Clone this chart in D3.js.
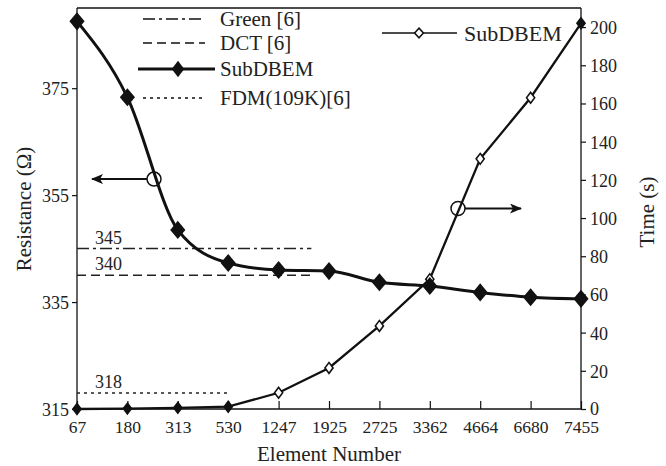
<!DOCTYPE html>
<html>
<head>
<meta charset="utf-8">
<script src="https://cdn.jsdelivr.net/npm/d3@7"></script>
<style>
  body { margin: 0; background: #fff; }
  svg { font-family: "Liberation Serif", "DejaVu Serif", serif; }
</style>
</head>
<body>
<div id="chart"></div>
<script>
var elements = ["67", "180", "313", "530", "1247", "1925", "2725", "3362", "4664", "6680", "7455"];
var resistance = [387.5, 373.3, 348.5, 342.3, 341.0, 340.8, 338.7, 338.0, 336.8, 335.9, 335.6];
var time = [0, 0.2, 0.6, 1.2, 8.5, 21.5, 43.5, 68, 131, 163, 202];
var leftTicks = [315, 335, 355, 375];
var rightTicks = [0, 20, 40, 60, 80, 100, 120, 140, 160, 180, 200];
var refNames = ["Green [6]", "DCT [6]", "FDM(109K)[6]"];
var refValues = [345, 340, 318];

const w = 666;
const h = 466;
const padL = 77, padR = 581, padT = 8, padB = 409;

const svg = d3.select("#chart").append("svg")
    .attr("width", w)
    .attr("height", h);

const xScale = d3.scalePoint()
    .domain(elements)
    .range([padL, padR]);

const yLeft = d3.scaleLinear()
    .domain([315, 390])
    .range([padB, padT]);

const yRight = d3.scaleLinear()
    .domain([0, 210])
    .range([padB, padT]);

// frame top
svg.append("line")
    .attr("x1", padL).attr("x2", padR)
    .attr("y1", padT).attr("y2", padT)
    .attr("stroke", "#111").attr("stroke-width", 1.3);

// axes
const xAxis = d3.axisBottom(xScale).tickSizeInner(-8).tickSizeOuter(0).tickPadding(12);
const gx = svg.append("g")
    .attr("transform", "translate(0," + padB + ")")
    .call(xAxis);

const gl = svg.append("g")
    .attr("transform", "translate(" + padL + ",0)")
    .call(d3.axisLeft(yLeft).tickValues(leftTicks).tickSizeInner(5).tickSizeOuter(0).tickPadding(3));

const gr = svg.append("g")
    .attr("transform", "translate(" + padR + ",0)")
    .call(d3.axisRight(yRight).tickValues(rightTicks).tickSizeInner(5).tickSizeOuter(0).tickPadding(4));

[gx, gl, gr].forEach(function (g) {
    g.selectAll(".domain").attr("stroke", "#111").attr("stroke-width", 1.3);
    g.selectAll(".tick line").attr("stroke", "#111").attr("stroke-width", 1.2);
    g.selectAll("text")
        .attr("fill", "#222")
        .style("font-size", "18px")
        .style("font-family", "Liberation Serif");
});
gx.selectAll("text").style("font-size", "17.5px");
gx.selectAll(".domain").attr("d", "M" + padL + ",0H" + padR);
gl.selectAll(".domain").attr("d", "M0," + padB + "V" + padT);
gr.selectAll(".domain").attr("d", "M0," + padB + "V" + padT);
gl.selectAll(".tick text").attr("dy", "0.36em");
gr.selectAll(".tick text").attr("dy", (d) => d === 0 ? "0.28em" : "0.36em");

// axis titles
svg.append("text")
    .attr("transform", "translate(31,209) rotate(-90)")
    .attr("text-anchor", "middle")
    .style("font-size", "21px")
    .attr("fill", "#222")
    .text("Resistance (Ω)");

svg.append("text")
    .attr("transform", "translate(654,212) rotate(-90)")
    .attr("text-anchor", "middle")
    .style("font-size", "21px")
    .attr("fill", "#222")
    .text("Time (s)");

svg.append("text")
    .attr("x", 329).attr("y", 461)
    .attr("text-anchor", "middle")
    .style("font-size", "21px")
    .attr("fill", "#222")
    .text("Element Number");

// reference lines
var refDash = ["12,4,3,4", "9,5", "3,4"];
var refEnd = [4.65, 4.65, 3.05];
var step = xScale.step();
refValues.forEach(function (v, i) {
    svg.append("line")
        .attr("x1", padL)
        .attr("x2", padL + refEnd[i] * step)
        .attr("y1", yLeft(v)).attr("y2", yLeft(v))
        .attr("stroke", "#222")
        .attr("stroke-width", 1.5)
        .attr("stroke-dasharray", refDash[i]);
    svg.append("text")
        .attr("x", padL + 18)
        .attr("y", yLeft(v) - 5)
        .style("font-size", "18px")
        .attr("fill", "#222")
        .text(v);
});

const diamond = d3.symbol().type(d3.symbolDiamond);

// resistance line
const lineR = d3.line()
    .x((d, i) => xScale(elements[i]))
    .y((d) => yLeft(d))
    .curve(d3.curveMonotoneX);

svg.append("path")
    .datum(resistance)
    .attr("d", lineR)
    .attr("fill", "none")
    .attr("stroke", "#111")
    .attr("stroke-width", 3);

// time line
const lineT = d3.line()
    .x((d, i) => xScale(elements[i]))
    .y((d) => yRight(d));

svg.append("path")
    .datum(time)
    .attr("d", lineT)
    .attr("fill", "none")
    .attr("stroke", "#111")
    .attr("stroke-width", 2.3);

svg.selectAll(".tmark")
    .data(time)
    .enter()
    .append("path")
    .attr("class", "tmark")
    .attr("d", diamond.size(34))
    .attr("transform", (d, i) => "translate(" + xScale(elements[i]) + "," + yRight(d) + ") scale(1.3,1)")
    .attr("fill", (d, i) => (i < 4 || i === time.length - 1) ? "#111" : "#fff")
    .attr("stroke", "#111")
    .attr("stroke-width", 1.3);

svg.selectAll(".rmark")
    .data(resistance)
    .enter()
    .append("path")
    .attr("class", "rmark")
    .attr("d", diamond.size(95))
    .attr("transform", (d, i) => "translate(" + xScale(elements[i]) + "," + yLeft(d) + ") scale(1.45,1)")
    .attr("fill", "#111");

// arrows with circles
svg.append("defs").append("marker")
    .attr("id", "arrow")
    .attr("viewBox", "0 0 12 10")
    .attr("refX", 11).attr("refY", 5)
    .attr("markerWidth", 12).attr("markerHeight", 10)
    .attr("markerUnits", "userSpaceOnUse")
    .attr("orient", "auto")
    .append("path")
    .attr("d", "M0,0 L12,5 L0,10 L3,5 Z")
    .attr("fill", "#111");

function pointer(cx, cy, tx) {
    svg.append("line")
        .attr("x1", cx + (tx < cx ? -7 : 7)).attr("y1", cy)
        .attr("x2", tx).attr("y2", cy)
        .attr("stroke", "#111").attr("stroke-width", 2)
        .attr("marker-end", "url(#arrow)");
    svg.append("circle")
        .attr("cx", cx).attr("cy", cy).attr("r", 7)
        .attr("fill", "none").attr("stroke", "#111").attr("stroke-width", 1.5);
}
pointer(154, yLeft(358), 92);
pointer(458, yRight(105), 521);

// legend (left)
var legY = [19, 43, 69, 98];
var legNames = ["Green [6]", "DCT [6]", "SubDBEM", "FDM(109K)[6]"];
var legDash = ["12,4,3,4", "9,5", null, "3,4"];
legNames.forEach(function (n, i) {
    svg.append("line")
        .attr("x1", i === 2 ? 138 : 143).attr("x2", i === 2 ? 215 : 205)
        .attr("y1", legY[i]).attr("y2", legY[i])
        .attr("stroke", "#111")
        .attr("stroke-width", i === 2 ? 3 : 1.5)
        .attr("stroke-dasharray", legDash[i]);
    if (i === 2) {
        svg.append("path")
            .attr("d", diamond.size(80))
            .attr("transform", "translate(178," + legY[i] + ") scale(1.3,1)")
            .attr("fill", "#111");
    }
    svg.append("text")
        .attr("x", 220).attr("y", legY[i])
        .attr("dy", "0.35em")
        .style("font-size", "21px")
        .attr("fill", "#222")
        .text(n);
});

// legend (right)
svg.append("line")
    .attr("x1", 382).attr("x2", 457)
    .attr("y1", 33).attr("y2", 33)
    .attr("stroke", "#111").attr("stroke-width", 1.5);
svg.append("path")
    .attr("d", diamond.size(34))
    .attr("transform", "translate(419,33) scale(1.4,0.9)")
    .attr("fill", "#fff").attr("stroke", "#111").attr("stroke-width", 1.3);
svg.append("text")
    .attr("x", 464).attr("y", 33)
    .attr("dy", "0.35em")
    .style("font-size", "22px")
    .attr("fill", "#222")
    .text("SubDBEM");
</script>
</body>
</html>
